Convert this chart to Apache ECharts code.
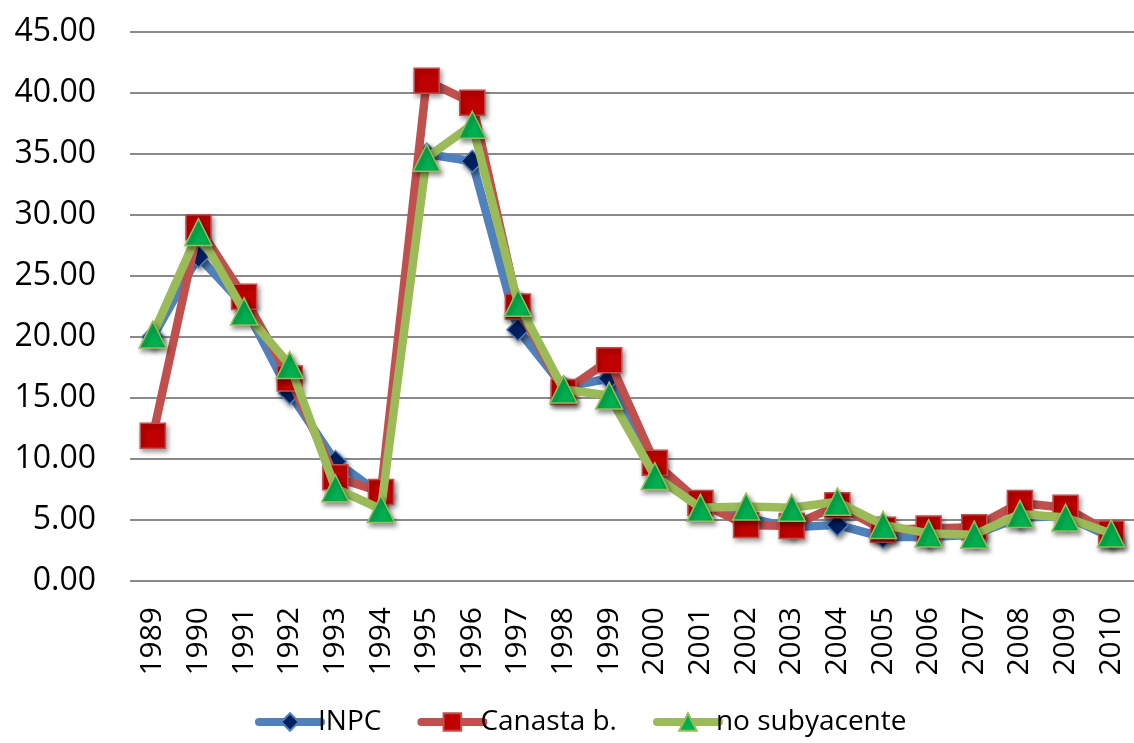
<!DOCTYPE html>
<html>
<head>
<meta charset="utf-8">
<script src="https://cdn.jsdelivr.net/npm/echarts@6/dist/echarts.min.js"></script>
<style>
  html, body { margin: 0; padding: 0; background: #fff; }
  #chart { width: 1134px; height: 743px; }
</style>
</head>
<body>
<div id="chart"></div>
<script>
var years = ['1989','1990','1991','1992','1993','1994','1995','1996','1997','1998','1999',
             '2000','2001','2002','2003','2004','2005','2006','2007','2008','2009','2010'];
var inpc = [20.0, 26.6, 22.6, 15.4, 9.8, 7.1, 35.0, 34.4, 20.6, 15.9, 16.6,
            9.5, 6.4, 5.2, 4.4, 4.6, 3.6, 3.6, 3.8, 5.2, 5.3, 3.6];
var canasta = [11.9, 29.0, 23.3, 16.6, 8.5, 7.3, 41.0, 39.2, 22.5, 15.5, 18.1,
               9.7, 6.4, 4.6, 4.5, 6.2, 4.2, 4.3, 4.4, 6.4, 6.0, 3.9];
var noSubyacente = [20.2, 28.6, 22.1, 17.7, 7.6, 5.9, 34.7, 37.4, 22.8, 15.7, 15.2,
                    8.6, 6.0, 6.1, 6.0, 6.5, 4.6, 3.9, 3.8, 5.5, 5.2, 3.9];
var yTicks = { min: 0, max: 45, interval: 5 };

var chart = echarts.init(document.getElementById('chart'));

function serie(name, data, lineColor, fill, symbol, size, z) {
  return {
    name: name,
    type: 'line',
    data: data,
    z: z,
    symbol: symbol,
    symbolSize: size,
    lineStyle: { color: lineColor, width: 8.5 },
    itemStyle: {
      color: fill, borderColor: lineColor, borderWidth: 1.5,
      shadowColor: 'rgba(0,0,0,0.45)', shadowBlur: 5, shadowOffsetX: 2, shadowOffsetY: 3
    },
    emphasis: { disabled: true },
    animation: false
  };
}

chart.setOption({
  backgroundColor: '#fff',
  textStyle: { fontFamily: 'Open Sans' },
  grid: { left: 130, top: 32, width: 1017, height: 549 },
  legend: {
    top: 703,
    left: 250,
    itemWidth: 62,
    itemHeight: 22,
    itemGap: 36,
    lineStyle: { width: 8, cap: 'round' },
    textStyle: { fontSize: 28, color: '#000', fontFamily: 'Open Sans', padding: [0, 0, 0, -8] },
    data: ['INPC', 'Canasta b.', 'no subyacente']
  },
  xAxis: {
    type: 'category',
    data: years,
    boundaryGap: true,
    axisLine: { show: false },
    axisTick: { show: false },
    axisLabel: { rotate: 90, fontSize: 30, color: '#000', margin: 26 }
  },
  yAxis: {
    type: 'value',
    min: yTicks.min,
    max: yTicks.max,
    interval: yTicks.interval,
    axisLine: { show: false },
    axisTick: { show: false },
    axisLabel: {
      fontSize: 32, color: '#000', margin: 34,
      formatter: function (v) { return v.toFixed(2); }
    },
    splitLine: { lineStyle: { color: '#8a8a8a', width: 2 } }
  },
  series: [
    serie('INPC', inpc, '#4F81BD', '#002060', 'diamond', 22, 2),
    serie('Canasta b.', canasta, '#C0504D', '#C00000', 'rect', 25, 3),
    serie('no subyacente', noSubyacente, '#9BBB59', '#00B050', 'triangle', 27, 4)
  ]
});
</script>
</body>
</html>
